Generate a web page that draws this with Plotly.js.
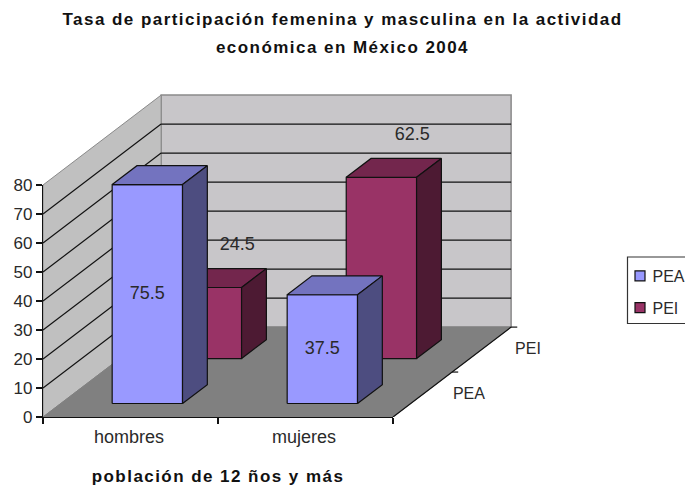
<!DOCTYPE html>
<html><head><meta charset="utf-8">
<script src="https://cdn.plot.ly/plotly-3.0.1.min.js"></script>
<style>html,body{margin:0;padding:0;background:#fff;overflow:hidden}
.gtitle,.x2title{letter-spacing:1.45px}</style>
</head><body><div id="chart" style="width:685px;height:487px"></div>
<script>
// ---- data ----
const categories = ['hombres', 'mujeres'];
const depthLabels = ['PEA', 'PEI'];
const PEA = [75.5, 37.5];
const PEI = [24.5, 62.5];
const gridValues = [10, 20, 30, 40, 50, 60, 70];
const yTicks = [0, 10, 20, 30, 40, 50, 60, 70, 80];

// ---- oblique projection expressed in axis units ----
const DX = 0.675, DY = 31;           // shift of the full depth, in x and value units
const P = (c, d, v) => [c + d * DX, v + d * DY];
const BAR_L = 0.294, BAR_R = 0.696, ROW_F = 0.15, ROW_B = 0.36;
const FONT = 'Liberation Sans, Arial, sans-serif';
const TXT = '#2a2a2a';

function poly(pts, color, lineColor, w) {
  return {type:'scatter', mode:'lines', x:pts.map(p=>p[0]), y:pts.map(p=>p[1]), fill:'toself',
    fillcolor:color, line:{color:lineColor, width:w}, showlegend:false, hoverinfo:'skip'};
}
function segs(list, color, w) {
  const x=[], y=[];
  list.forEach(s=>{ x.push(s[0][0], s[1][0], null); y.push(s[0][1], s[1][1], null); });
  return {type:'scatter', mode:'lines', x, y, line:{color, width:w}, showlegend:false, hoverinfo:'skip'};
}
function faces(values, row, cols, name) {
  const f = {x:[],y:[]}, t = {x:[],y:[]}, s = {x:[],y:[]};
  const add = (o, pts) => { pts.forEach(p=>{o.x.push(p[0]); o.y.push(p[1]);}); o.x.push(null); o.y.push(null); };
  values.forEach((v,i)=>{
    const l=i+BAR_L, r=i+BAR_R, d0=row*0.5+ROW_F, d1=row*0.5+ROW_B;
    add(f,[P(l,d0,0),P(r,d0,0),P(r,d0,v),P(l,d0,v),P(l,d0,0)]);
    add(t,[P(l,d0,v),P(r,d0,v),P(r,d1,v),P(l,d1,v),P(l,d0,v)]);
    add(s,[P(r,d0,0),P(r,d1,0),P(r,d1,v),P(r,d0,v),P(r,d0,0)]);
  });
  const mk=(o,c,n)=>({type:'scatter',mode:'lines',x:o.x,y:o.y,fill:'toself',fillcolor:c,
    line:{color:'#111',width:1.2},showlegend:false,name:n,hoverinfo:'skip'});
  return [mk(f,cols[0],name),mk(t,cols[1],name),mk(s,cols[2],name)];
}
const colPEA=['#9999FF','#7373BF','#4D4D80'], colPEI=['#993366','#73264D','#4D1A33'];

const traces = [
  poly([P(0,1,0),P(2,1,0),P(2,1,80),P(0,1,80),P(0,1,0)],'#C8C6C9','#8a8a8a',1.5),
  poly([P(0,0,0),P(0,1,0),P(0,1,80),P(0,0,80),P(0,0,0)],'#C0C0C0','#8a8a8a',1),
  poly([P(0,0,0),P(2,0,0),P(2,1,0),P(0,1,0),P(0,0,0)],'#808080','#808080',1),
  segs(gridValues.map(v=>[P(0,1,v),P(2,1,v)]),'#111',1.2),
  segs(gridValues.map(v=>[P(0,0,v),P(0,1,v)]),'#111',1.2),
  segs([[P(2,0,0),P(2,1,0)]].concat([0.5,1].map(d=>[P(2,d,0),P(2.035,d,0)])),'#111',1.2),
  ...faces(PEI,1,colPEI,'PEI'),
  ...faces(PEA,0,colPEA,'PEA'),
  // value labels
  {type:'scatter',mode:'text',cliponaxis:false,showlegend:false,hoverinfo:'skip',
   x:PEA.map((v,i)=>P(i+(BAR_L+BAR_R)/2,ROW_F,0)[0]),
   y:PEA.map(v=>P(0,ROW_F,v/2)[1]),
   text:PEA.map(String),textposition:'middle center',textfont:{family:FONT,size:18,color:TXT}},
  {type:'scatter',mode:'text',cliponaxis:false,showlegend:false,hoverinfo:'skip',
   x:PEI.map((v,i)=>P(i+(BAR_L+BAR_R)/2+0.177,0.5+ROW_F,0)[0]),
   y:PEI.map(v=>P(0,0.5+ROW_F,v+14.5)[1]),
   text:PEI.map(String),textposition:'middle center',textfont:{family:FONT,size:18,color:TXT}},
  // depth-axis labels
  {type:'scatter',mode:'text',cliponaxis:false,showlegend:false,hoverinfo:'skip',
   x:depthLabels.map((n,i)=>P(2.265,0.25+i*0.5,0)[0]),
   y:depthLabels.map((n,i)=>P(0,0.25+i*0.5,0)[1]),
   text:depthLabels,textposition:'middle center',textfont:{family:FONT,size:16,color:TXT}},
  // legend entries
  {type:'scatter',mode:'markers',x:[null],y:[null],name:'PEA',legendgroup:'a',
   marker:{symbol:'square',size:10,color:colPEA[0],line:{color:'#111',width:1.2}}},
  {type:'scatter',mode:'markers',x:[null],y:[null],name:'PEI',legendgroup:'b',
   marker:{symbol:'square',size:10,color:colPEI[0],line:{color:'#111',width:1.2}}},
  // carrier of the visible category and value axes, drawn above the floor
  {type:'scatter',mode:'markers',x:[null],y:[null],xaxis:'x2',yaxis:'y2',showlegend:false,hoverinfo:'skip'}
];

const PL=43,PT=80,PW=487,PH=337, AXW=350, AXH=232;
const px = v => (v-PL)/PW, py = v => (PT+PH-v)/PH;
const layout = {
  width:685,height:487,showlegend:true,paper_bgcolor:'#fff',plot_bgcolor:'rgba(0,0,0,0)',
  margin:{l:PL,r:685-PL-PW,t:PT,b:487-PT-PH,pad:0,autoexpand:false},
  font:{family:FONT,size:16,color:TXT},
  title:{text:'Tasa de participación femenina y masculina en la actividad<br>económica en México 2004',
    x:0.5,xref:'container',xanchor:'center',y:0.949,yref:'container',yanchor:'top',
    font:{family:FONT,size:17,color:'#111',weight:700}},
  xaxis:{range:[0,PW/(AXW/2)],visible:false,domain:[0,1],fixedrange:true},
  yaxis:{range:[0,PH/(AXH/80)],visible:false,domain:[0,1],fixedrange:true},
  xaxis2:{domain:[0,AXW/PW],anchor:'y2',range:[0,2],tickmode:'array',tickvals:[0.492,1.492],ticktext:categories,ticks:'',
    ticklabelstandoff:3,
    minor:{tickmode:'array',tickvals:[0,1,2],ticks:'outside',ticklen:6,tickcolor:'#111',tickwidth:1.2,showgrid:false},
    showgrid:false,zeroline:false,showline:true,linecolor:'#111',linewidth:1.2,
    tickfont:{family:FONT,size:18,color:TXT},
    title:{text:'población de 12 ños y más',standoff:24,font:{family:FONT,size:17,color:'#111',weight:700}}},
  yaxis2:{domain:[0,AXH/PH],anchor:'x2',range:[0,80],tickmode:'array',tickvals:yTicks,ticks:'outside',ticklen:6,tickcolor:'#111',tickwidth:1.2,
    showgrid:false,zeroline:false,showline:true,linecolor:'#111',linewidth:1.2,
    tickfont:{family:FONT,size:17,color:TXT}},
  legend:{x:px(627.5),xanchor:'left',y:py(259),yanchor:'top',bgcolor:'rgba(0,0,0,0)',borderwidth:0,
    tracegroupgap:8,font:{family:FONT,size:16,color:TXT}},
  shapes:[{type:'rect',xref:'paper',yref:'paper',x0:px(627.5),x1:px(700),y0:py(323.5),y1:py(257),
    line:{color:'#333',width:1.2},fillcolor:'#fff',layer:'below'}]
};
function tidy(){
  document.querySelectorAll('.legend .scrollbox').forEach(s=>s.removeAttribute('clip-path'));
  document.querySelectorAll('.legendtext').forEach(t=>t.setAttribute('x',25));
  document.querySelectorAll('.legendpoints path').forEach(p=>p.setAttribute('transform','translate(12.5,0)'));
  const second = document.querySelectorAll('.gtitle tspan.line')[1];
  if (second) second.setAttribute('dy','28px');
}
Plotly.newPlot('chart',traces,layout,{displayModeBar:false,staticPlot:true}).then(()=>{
  tidy(); setTimeout(tidy,30);
});
</script></body></html>
